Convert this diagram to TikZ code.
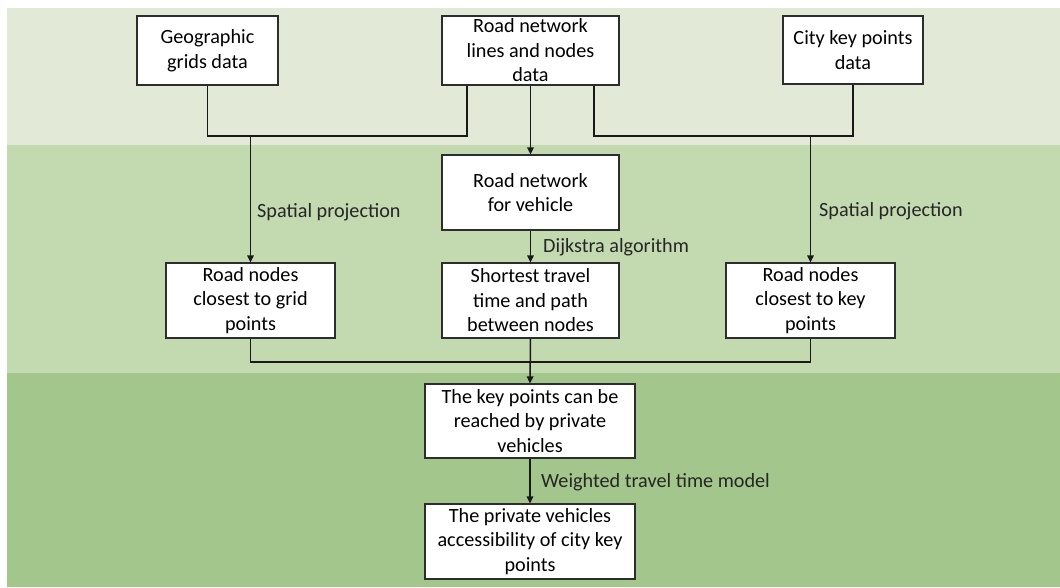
\documentclass[tikz,border=0pt]{standalone}
\usepackage{fontspec}
\setmainfont{Carlito}
\usetikzlibrary{arrows.meta}
\definecolor{bandA}{RGB}{226,233,214}
\definecolor{bandB}{RGB}{195,217,176}
\definecolor{bandC}{RGB}{162,198,139}
\definecolor{edge}{RGB}{45,45,45}
\tikzset{
  box/.style={draw=edge, line width=1.1pt, fill=white, inner sep=0pt, align=center,
              font=\fontsize{20.2}{24.5}\selectfont},
  conn/.style={line width=1.5pt, draw=black!90},
  arr/.style={conn, -{Triangle[length=7pt,width=6.5pt]}},
  lbl/.style={anchor=west, inner sep=0pt, font=\fontsize{20.2}{24}\selectfont, text=black!85},
}
\begin{document}
\begin{tikzpicture}[x=1pt,y=-1pt]
\useasboundingbox (0,0) rectangle (1060,587);
\fill[white] (0,0) rectangle (1060,587);
\fill[bandA] (7,8) rectangle (1060,145);
\fill[bandB] (7,145) rectangle (1060,373);
\fill[bandC] (7,373) rectangle (1060,587);

\node[box, minimum width=141pt, minimum height=69pt] (geo) at (207.5,50.5) {Geographic\\grids data};
\node[box, minimum width=177pt, minimum height=69pt] (rnd) at (530.5,50.5) {Road network\\lines and nodes\\data};
\node[box, minimum width=140pt, minimum height=68pt] (city) at (853,50) {City key points\\data};
\node[box, minimum width=177pt, minimum height=75pt] (veh) at (530.5,192.5) {Road network\\for vehicle};
\node[box, minimum width=169pt, minimum height=75pt] (grid) at (250.5,300.5) {Road nodes\\closest to grid\\points};
\node[box, minimum width=177pt, minimum height=75pt] (short) at (530.5,300.5) {Shortest travel\\time and path\\between nodes};
\node[box, minimum width=169pt, minimum height=75pt] (key) at (810.5,300.5) {Road nodes\\closest to key\\points};
\node[box, minimum width=210pt, minimum height=74pt] (reach) at (530,421) {The key points can be\\reached by private\\vehicles};
\node[box, minimum width=210pt, minimum height=75pt] (final) at (530,541.5) {The private vehicles\\accessibility of city key\\points};

\coordinate (jL) at (467,136);
\coordinate (jR) at (594,136);
\coordinate (jB) at (530.5,362);

\draw[conn] (geo.south) |- (jL) -- (jL |- rnd.south);
\draw[arr] (grid.north |- jL) -- (grid.north);
\draw[conn] (jR |- rnd.south) |- (city.south |- jR) -- (city.south);
\draw[arr] (key.north |- jR) -- (key.north);
\draw[arr] (rnd.south) -- (veh.north);
\draw[arr] (veh.south) -- (short.north);
\draw[conn] (grid.south) |- (jB) -| (key.south);
\draw[arr] (short.south) -- (reach.north);
\draw[arr] (reach.south) -- (final.north);

\node[lbl] (l1) at (257,212) {Spatial projection};
\node[lbl] (l2) at (819,211) {Spatial projection};
\node[lbl] (l3) at (543,247) {Dijkstra algorithm};
\node[lbl] (l4) at (541,482) {Weighted travel time model};
\end{tikzpicture}
\end{document}
